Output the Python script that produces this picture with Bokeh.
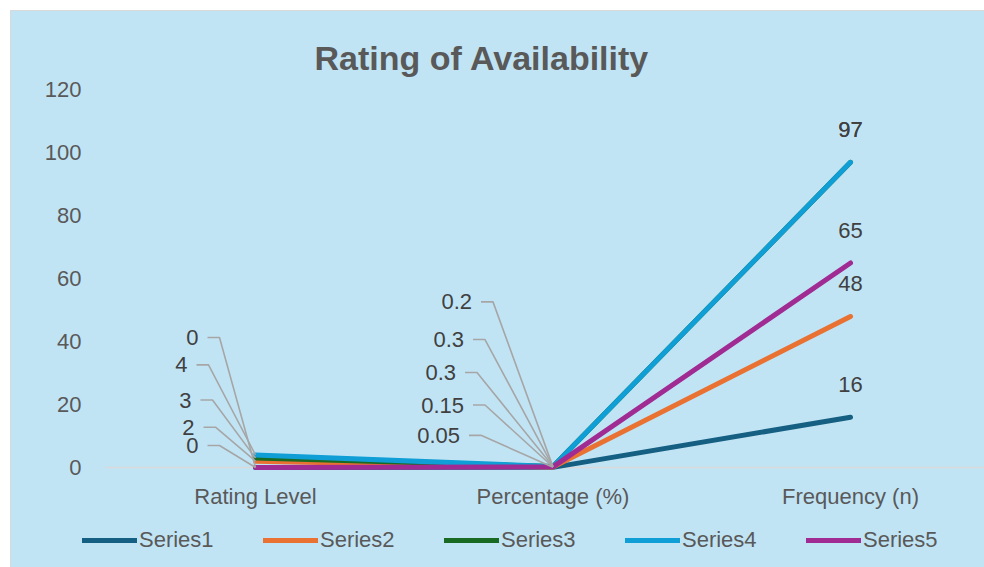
from bokeh.plotting import figure
from bokeh.layouts import column
from bokeh.models import Range1d, FixedTicker, Legend, LegendItem, ColumnDataSource
from bokeh.embed import file_html
from bokeh.resources import INLINE
from bokeh.core.properties import value

# ---- data -------------------------------------------------------------
categories = ["Rating Level", "Percentage (%)", "Frequency (n)"]
series_names = ["Series1", "Series2", "Series3", "Series4", "Series5"]
series1 = [0, 0.05, 16]
series2 = [2, 0.15, 48]
series3 = [3, 0.3, 97]
series4 = [4, 0.3, 97]
series5 = [0, 0.2, 65]
y_ticks = [0, 20, 40, 60, 80, 100, 120]

series_values = [series1, series2, series3, series4, series5]
colors = ["#156082", "#E97132", "#196B24", "#0F9ED5", "#A02B93"]

# ---- layout -----------------------------------------------------------
W, H = 973, 509             # main chart
LEG_H = 47                  # legend strip below it
B_LEFT, B_RIGHT, B_TOP, B_BOTTOM = 70, 0, 77, 43
FRAME_W = W - B_LEFT - B_RIGHT
FRAME_H = H - B_TOP - B_BOTTOM
PX_PER_CAT = 297.5          # horizontal pixels per category step
FIRST_CAT_PX = 174          # first category centre from frame left
AXIS_START_PX = 24          # where the category axis line begins
PX_PER_UNIT = 62.92 / 20    # vertical pixels per value unit
ZERO_FROM_TOP = 379         # value 0 measured from frame top

x_start = -FIRST_CAT_PX / PX_PER_CAT
x_end = x_start + FRAME_W / PX_PER_CAT
y_end = ZERO_FROM_TOP / PX_PER_UNIT
y_start = y_end - FRAME_H / PX_PER_UNIT
axis_x0 = x_start + AXIS_START_PX / PX_PER_CAT

BG = "#C1E4F5"
TXT = "#595959"
LBL = "#404040"
LEADER = "#A6A6A6"
FONT = "Liberation Sans"

p = figure(width=W, height=H, output_backend="svg", toolbar_location=None,
           x_range=Range1d(x_start, x_end), y_range=Range1d(y_start, y_end),
           min_border_left=B_LEFT, min_border_right=B_RIGHT,
           min_border_top=B_TOP, min_border_bottom=B_BOTTOM)
# fills left transparent: the surrounding box carries the background colour
p.background_fill_color = None
p.border_fill_color = None
p.outline_line_color = None
p.xgrid.visible = False
p.ygrid.visible = False

# ---- title ------------------------------------------------------------
p.title.text = "Rating of Availability"
p.title.align = "left"
p.title.offset = 233
p.title.standoff = 23
p.title.text_font = FONT
p.title.text_font_size = "34px"
p.title.text_font_style = "bold"
p.title.text_color = TXT

# axes
p.xaxis.ticker = FixedTicker(ticks=list(range(len(categories))))
p.xaxis.major_label_overrides = {i: c for i, c in enumerate(categories)}
p.yaxis.ticker = FixedTicker(ticks=y_ticks)
for ax in (p.xaxis[0], p.yaxis[0]):
    ax.axis_line_color = None
    ax.major_tick_line_color = None
    ax.minor_tick_line_color = None
    ax.major_tick_out = 0
    ax.major_tick_in = 0
    ax.major_label_text_font = FONT
    ax.major_label_text_font_size = "22px"
    ax.major_label_text_color = TXT
p.yaxis.major_label_standoff = 0
p.xaxis.major_label_standoff = 6

# category axis line along zero
p.segment(x0=[axis_x0], y0=[0], x1=[x_end], y1=[0],
          line_color="#D9D9D9", line_width=1.5)

# ---- series lines -----------------------------------------------------
xs = list(range(len(categories)))
line_style = dict(line_width=5, line_cap="round", line_join="round")
for vals, col in zip(series_values, colors):
    p.line(xs, vals, line_color=col, **line_style)

# ---- data labels ------------------------------------------------------
def fmt(v):
    return f"{v:g}"

# labels moved aside with leader lines: (dx, dy) of the text's right edge
# and vertical centre relative to its point, in screen pixels
leader_offsets = {
    0: [(-57, -22), (-61, -34), (-64, -58), (-68, -90), (-57, -130)],
    1: [(-93, -32), (-89, -62), (-97, -94), (-89, -127), (-81, -165)],
}
lead_xs, lead_ys = [], []
lab_x, lab_y, lab_t, lab_dx, lab_dy = [], [], [], [], []
for ci, offs in leader_offsets.items():
    for si, (dx, dy) in enumerate(offs):
        v = series_values[si][ci]
        lab_x.append(ci)
        lab_y.append(v)
        lab_t.append(fmt(v))
        lab_dx.append(dx)
        lab_dy.append(dy)
        ly = v - dy / PX_PER_UNIT
        lead_xs.append([ci + (dx + 9) / PX_PER_CAT, ci + (dx + 21) / PX_PER_CAT, ci])
        lead_ys.append([ly, ly, v])

p.multi_line(lead_xs, lead_ys, line_color=LEADER, line_width=1.6)
side_src = ColumnDataSource(dict(x=lab_x, y=lab_y, t=lab_t, dx=lab_dx, dy=lab_dy))
p.text(x="x", y="y", text="t", x_offset="dx", y_offset="dy", source=side_src,
       text_align="right", text_baseline="middle", text_font=value(FONT),
       text_font_size="22px", text_color=LBL)

# labels centred above the last category
top_ci = 2
top_src = ColumnDataSource(dict(
    x=[top_ci] * len(series_values),
    y=[s[top_ci] for s in series_values],
    t=[fmt(s[top_ci]) for s in series_values]))
p.text(x="x", y="y", text="t", source=top_src, y_offset=-33,
       text_align="center", text_baseline="middle", text_font=value(FONT),
       text_font_size="22px", text_color=LBL)

# ---- legend strip -----------------------------------------------------
# a bare plot below the chart; its series sit outside the visible y range
# so only the legend entries show
leg = figure(width=W, height=LEG_H, output_backend="svg", toolbar_location=None,
             x_range=Range1d(0, W), y_range=Range1d(1000, 1000 + LEG_H),
             min_border=0)
leg.axis.visible = False
leg.grid.visible = False
leg.outline_line_color = None
leg.background_fill_color = None
leg.border_fill_color = None
leg_items = []
for name, vals, col in zip(series_names, series_values, colors):
    r = leg.line(xs, vals, line_color=col, **line_style)
    leg_items.append(LegendItem(label=name, renderers=[r]))

legend = Legend(items=leg_items, orientation="horizontal", location=(1, 14),
                glyph_width=55, glyph_height=20, label_standoff=2,
                label_width=120, spacing=4, padding=0, margin=0,
                background_fill_alpha=0, border_line_color=None,
                label_text_font=FONT, label_text_font_size="22px",
                label_text_color=TXT, label_text_baseline="middle")
leg.add_layout(legend)

page = column(p, leg, spacing=0)
page.margin = (11, 0, 0, 11)
page.styles = {"outline": "1px solid #D9D9D9", "background-color": BG}

open("out.html", "w").write(file_html(page, INLINE))
